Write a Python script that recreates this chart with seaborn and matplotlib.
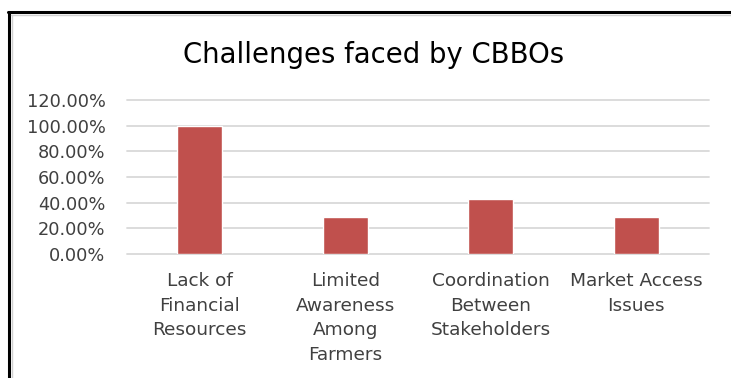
import matplotlib
matplotlib.use("Agg")
import matplotlib.pyplot as plt
from matplotlib.lines import Line2D
from matplotlib.ticker import FuncFormatter
import seaborn as sns
import pandas as pd

categories = [
    "Lack of\nFinancial\nResources",
    "Limited\nAwareness\nAmong\nFarmers",
    "Coordination\nBetween\nStakeholders",
    "Market Access\nIssues",
]
shares = [100.00, 28.57, 42.86, 28.57]
y_ticks = [0, 20, 40, 60, 80, 100, 120]

df = pd.DataFrame({"challenge": categories, "share": shares})

sns.set_theme(style="white")
plt.rcParams["font.family"] = ["DejaVu Sans"]

W, H = 731, 378
fig = plt.figure(figsize=(W / 100, H / 100), dpi=100)
ax = fig.add_axes([127 / W, 1 - 254 / H, (709 - 127) / W, (254 - 100) / H])

sns.barplot(data=df, x="challenge", y="share", color="#C0504D",
            width=0.31, saturation=1, ax=ax)

ax.set_ylim(0, 120)
ax.set_yticks(y_ticks)
ax.yaxis.set_major_formatter(FuncFormatter(lambda v, _: f"{v:.2f}%"))
ax.set_xlim(-0.5, len(categories) - 0.5)
ax.grid(axis="y", color="#D9D9D9", linewidth=1.3)
for gl in ax.get_ygridlines():
    gl.set_clip_on(False)
ax.set_axisbelow(True)
for s in ax.spines.values():
    s.set_visible(False)
ax.set_xlabel("")
ax.set_ylabel("")
ax.tick_params(axis="y", length=0, pad=15.5, labelsize=12.8, labelcolor="#404040")
ax.tick_params(axis="x", length=0, pad=13, labelsize=13.3, labelcolor="#404040")
for t in ax.get_xticklabels():
    t.set_linespacing(1.47)

fig.text(374 / W, 1 - 55 / H, "Challenges faced by CBBOs", ha="center",
         va="center", fontsize=19.8, color="#000000")

# chart frame
fig.add_artist(Line2D([9 / W, 9 / W], [0, 1 - 12 / H], color="black", linewidth=2.2))
fig.add_artist(Line2D([8 / W, 1], [1 - 12 / H, 1 - 12 / H], color="black", linewidth=2.2))
fig.add_artist(Line2D([11.5 / W, 11.5 / W], [0, 1 - 14.5 / H], color="#D0D0D0", linewidth=1))
fig.add_artist(Line2D([11 / W, 1], [1 - 14.5 / H, 1 - 14.5 / H], color="#D0D0D0", linewidth=1))

fig.savefig("out.png", dpi=100)
